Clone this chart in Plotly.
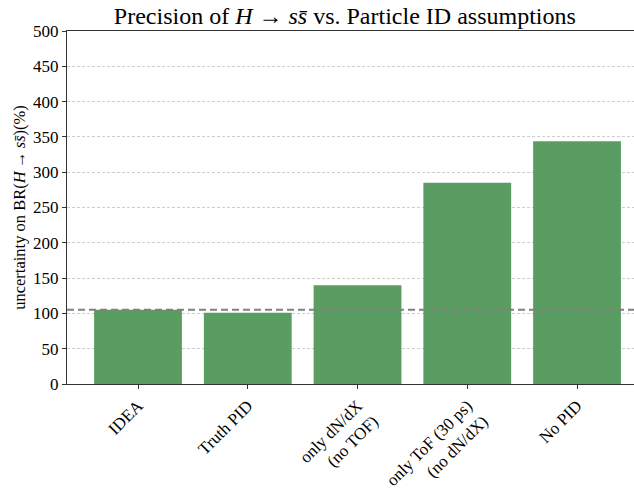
import plotly.graph_objects as go

# PID scenarios and the resulting relative uncertainty on BR(H -> ss̄), in percent
categories = ["IDEA", "Truth PID", "only dN/dX<br>(no TOF)",
              "only ToF (30 ps)<br>(no dN/dX)", "No PID"]
uncertainty = [105, 101, 140, 285, 344]
reference_level = 105  # IDEA baseline, drawn as a dashed line
y_ticks = [0, 50, 100, 150, 200, 250, 300, 350, 400, 450, 500]

FONT = "Liberation Serif"
BAR_COLOR = "rgb(90,157,98)"

x_pos = list(range(len(categories)))

fig = go.Figure()
fig.add_trace(go.Bar(
    x=x_pos, y=uncertainty,
    marker=dict(color=BAR_COLOR, line=dict(width=0)),
    width=0.8,
    hoverinfo="skip",
))

fig.add_hline(y=reference_level, line=dict(color="rgb(128,128,128)", width=2, dash="7px,4px"))

fig.update_layout(
    width=634, height=490,
    margin=dict(l=67, r=0, t=31, b=106, autoexpand=False),
    paper_bgcolor="white", plot_bgcolor="white",
    font=dict(family=FONT, color="black", size=16),
    showlegend=False,
    title=dict(
        text="Precision of <i>H</i> → <i>ss̄</i> vs. Particle ID assumptions",
        font=dict(family=FONT, size=24, color="black"),
        x=0.49, xanchor="center", xref="paper",
        y=1 - 16 / 490, yanchor="middle", yref="container",
    ),
)

fig.update_xaxes(
    tickmode="array", tickvals=x_pos, ticktext=categories,
    range=[-0.647, 4.519],
    tickangle=-45, automargin=False,
    showline=True, linecolor="#333333", linewidth=1.2, mirror=True,
    ticks="outside", ticklen=4, tickcolor="#333333",
    showgrid=False, zeroline=False,
    tickfont=dict(family=FONT, size=17),
)

fig.update_yaxes(
    range=[0, 500], automargin=False,
    tickmode="array", tickvals=y_ticks,
    showline=True, linecolor="#333333", linewidth=1.2,
    ticks="outside", ticklen=4, tickcolor="#333333",
    showgrid=True, gridcolor="rgb(205,205,205)", gridwidth=0.8, griddash="3px,2px",
    zeroline=False,
    tickfont=dict(family=FONT, size=17),
    title=dict(text="uncertainty on BR(<i>H</i>\u2009→\u2009<i>ss̄</i>)(%)",
               font=dict(family=FONT, size=16.5), standoff=3),
)

fig.write_html("out.html")
